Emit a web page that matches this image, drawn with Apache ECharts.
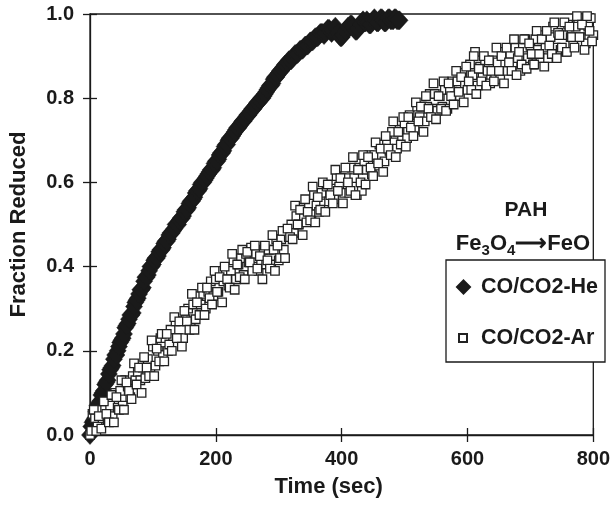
<!DOCTYPE html>
<html>
<head>
<meta charset="utf-8">
<script src="https://cdn.jsdelivr.net/npm/echarts@6/dist/echarts.min.js"></script>
<style>
html,body{margin:0;padding:0;background:#fff;}
#chart{width:613px;height:508px;}
</style>
</head>
<body>
<div id="chart"></div>
<script>
// ---- data ----
var xTicks = [0, 200, 400, 600, 800];
var yTicks = ['0.0', '0.2', '0.4', '0.6', '0.8', '1.0'];
var seriesNames = ['CO/CO2-He', 'CO/CO2-Ar'];

// He run, samples at multiples of 4 s
var heTimeA = [0,4,8,12,16,20,24,28,32,36,40,44,48,52,56,60,64,68,72,76,80,84,88,92,96,100,104,108,112,116,120,124,128,132,136,140,144,148,152,156,160,164,168,172,176,180,184,188,192,196,200,204,208,212,216,220,224,228,232,236,240,244,248,252,256,260,264,268,272,276,280,284,288,292,296,300,304,308,312,316,320,324,328,332,336,340,344,348,352,356,360,364,368,372,376,380,384,388,392,396,400,404,408,412,416,420,424,428,432,436,440,444,448,452,456,460,464,468,472,476,480,484,488,492];
var heFracA = [0.00,0.03,0.04,0.07,0.08,0.10,0.12,0.13,0.155,0.165,0.19,0.20,0.22,0.23,0.255,0.265,0.285,0.29,0.315,0.325,0.345,0.35,0.375,0.38,0.40,0.405,0.42,0.425,0.44,0.445,0.46,0.465,0.48,0.485,0.50,0.50,0.515,0.52,0.535,0.54,0.555,0.56,0.575,0.58,0.595,0.60,0.61,0.62,0.63,0.635,0.65,0.655,0.67,0.675,0.69,0.70,0.705,0.715,0.725,0.73,0.74,0.745,0.755,0.76,0.77,0.775,0.785,0.79,0.80,0.805,0.815,0.825,0.83,0.845,0.85,0.86,0.865,0.875,0.88,0.89,0.89,0.90,0.905,0.91,0.915,0.92,0.925,0.93,0.935,0.94,0.945,0.95,0.955,0.95,0.96,0.965,0.955,0.965,0.96,0.95,0.945,0.955,0.965,0.97,0.975,0.965,0.96,0.97,0.98,0.98,0.985,0.975,0.98,0.99,0.98,0.985,0.99,0.98,0.985,0.99,0.985,0.99,0.985,0.985];
// He run, samples in between (2 s offset)
var heTimeB = [2,6,10,14,18,22,26,30,34,38,42,46,50,54,58,62,66,70,74,78,82,86,90,94,98,102,106,110,114,118,122,126,130,134,138,142,146,150,154,158,162,166,170,174,178,182,186,190,194,198,202,206,210,214,218,222,226,230,234,238,242,246,250,254,258,262,266,270,274,278,282,286,290,294,298,302,306,310,314,318,322,326,330,334,338,342,346,350,354,358,362,366,370,374,378,382,386,390,394,398,402,406,410,414,418,422,426,430,434,438,442,446,450,454,458,462,466,470,474,478,482,486,490];
var heFracB = [0.02,0.035,0.055,0.075,0.095,0.105,0.125,0.145,0.16,0.18,0.19,0.21,0.225,0.24,0.26,0.275,0.285,0.305,0.32,0.335,0.345,0.365,0.375,0.39,0.40,0.415,0.42,0.435,0.44,0.455,0.46,0.475,0.48,0.49,0.50,0.51,0.515,0.53,0.535,0.55,0.555,0.565,0.58,0.585,0.60,0.605,0.615,0.625,0.63,0.645,0.65,0.665,0.67,0.685,0.69,0.705,0.71,0.72,0.73,0.735,0.745,0.75,0.76,0.765,0.775,0.78,0.79,0.795,0.80,0.81,0.82,0.83,0.835,0.85,0.855,0.865,0.87,0.88,0.885,0.89,0.895,0.905,0.905,0.915,0.915,0.925,0.925,0.935,0.935,0.945,0.945,0.955,0.955,0.955,0.965,0.96,0.96,0.97,0.955,0.945,0.95,0.96,0.97,0.975,0.97,0.96,0.965,0.975,0.985,0.98,0.98,0.975,0.985,0.985,0.98,0.99,0.985,0.98,0.99,0.985,0.985,0.99,0.985];

// Ar run, samples at multiples of 4 s
var arTimeA = [0,4,8,12,16,20,24,28,32,36,40,44,48,52,56,60,64,68,72,76,80,84,88,92,96,100,104,108,112,116,120,124,128,132,136,140,144,148,152,156,160,164,168,172,176,180,184,188,192,196,200,204,208,212,216,220,224,228,232,236,240,244,248,252,256,260,264,268,272,276,280,284,288,292,296,300,304,308,312,316,320,324,328,332,336,340,344,348,352,356,360,364,368,372,376,380,384,388,392,396,400,404,408,412,416,420,424,428,432,436,440,444,448,452,456,460,464,468,472,476,480,484,488,492,496,500,504,508,512,516,520,524,528,532,536,540,544,548,552,556,560,564,568,572,576,580,584,588,592,596,600,604,608,612,616,620,624,628,632,636,640,644,648,652,656,660,664,668,672,676,680,684,688,692,696,700,704,708,712,716,720,724,728,732,736,740,744,748,752,756,760,764,768,772,776,780,784,788,792,796,800];
var arFracA = [0.00,0.05,0.04,0.02,0.06,0.04,0.06,0.035,0.07,0.045,0.10,0.065,0.105,0.07,0.13,0.115,0.09,0.14,0.13,0.15,0.13,0.16,0.135,0.18,0.16,0.21,0.165,0.20,0.23,0.19,0.23,0.20,0.25,0.23,0.27,0.23,0.27,0.23,0.275,0.30,0.27,0.31,0.275,0.33,0.31,0.335,0.30,0.34,0.365,0.33,0.37,0.34,0.39,0.365,0.39,0.355,0.39,0.415,0.37,0.405,0.42,0.38,0.43,0.41,0.445,0.40,0.43,0.39,0.415,0.44,0.405,0.44,0.405,0.44,0.465,0.415,0.465,0.44,0.485,0.47,0.50,0.48,0.52,0.50,0.54,0.52,0.505,0.55,0.525,0.57,0.545,0.53,0.575,0.55,0.59,0.555,0.585,0.56,0.615,0.59,0.61,0.575,0.61,0.575,0.635,0.61,0.57,0.635,0.58,0.645,0.63,0.665,0.62,0.665,0.64,0.69,0.665,0.65,0.70,0.675,0.72,0.695,0.68,0.725,0.70,0.74,0.705,0.76,0.735,0.725,0.78,0.755,0.78,0.745,0.78,0.81,0.775,0.81,0.77,0.805,0.78,0.82,0.775,0.82,0.84,0.805,0.84,0.805,0.86,0.835,0.82,0.88,0.855,0.91,0.83,0.875,0.85,0.89,0.865,0.835,0.89,0.85,0.885,0.845,0.91,0.88,0.865,0.905,0.88,0.92,0.895,0.865,0.92,0.94,0.895,0.925,0.88,0.94,0.915,0.895,0.95,0.92,0.895,0.945,0.97,0.92,0.955,0.915,0.95,0.91,0.975,0.945,0.93,0.97,0.99,0.945,0.975,0.93,0.97,0.99,0.95];

// Ar run, samples in between (2 s offset)
var arTimeB = [2,6,10,14,18,22,26,30,34,38,42,46,50,54,58,62,66,70,74,78,82,86,90,94,98,102,106,110,114,118,122,126,130,134,138,142,146,150,154,158,162,166,170,174,178,182,186,190,194,198,202,206,210,214,218,222,226,230,234,238,242,246,250,254,258,262,266,270,274,278,282,286,290,294,298,302,306,310,314,318,322,326,330,334,338,342,346,350,354,358,362,366,370,374,378,382,386,390,394,398,402,406,410,414,418,422,426,430,434,438,442,446,450,454,458,462,466,470,474,478,482,486,490,494,498,502,506,510,514,518,522,526,530,534,538,542,546,550,554,558,562,566,570,574,578,582,586,590,594,598,602,606,610,614,618,622,626,630,634,638,642,646,650,654,658,662,666,670,674,678,682,686,690,694,698,702,706,710,714,718,722,726,730,734,738,742,746,750,754,758,762,766,770,774,778,782,786,790,794,798];
var arFracB = [0.01,0.06,0.01,0.045,0.015,0.08,0.05,0.03,0.095,0.03,0.09,0.06,0.13,0.06,0.125,0.105,0.085,0.17,0.12,0.16,0.10,0.185,0.16,0.14,0.225,0.14,0.205,0.175,0.24,0.175,0.24,0.215,0.20,0.28,0.23,0.27,0.21,0.295,0.27,0.25,0.335,0.25,0.315,0.285,0.35,0.285,0.35,0.325,0.31,0.39,0.34,0.375,0.315,0.40,0.37,0.35,0.43,0.345,0.405,0.375,0.44,0.37,0.435,0.41,0.39,0.45,0.395,0.425,0.37,0.45,0.415,0.395,0.475,0.39,0.45,0.42,0.485,0.42,0.49,0.47,0.465,0.545,0.50,0.535,0.475,0.56,0.53,0.51,0.59,0.505,0.565,0.535,0.60,0.53,0.595,0.57,0.55,0.63,0.58,0.61,0.55,0.635,0.60,0.58,0.66,0.57,0.63,0.60,0.665,0.595,0.66,0.635,0.615,0.695,0.645,0.68,0.625,0.71,0.68,0.665,0.745,0.66,0.72,0.69,0.755,0.685,0.755,0.73,0.71,0.79,0.745,0.78,0.72,0.805,0.775,0.755,0.835,0.75,0.805,0.775,0.84,0.77,0.835,0.805,0.785,0.865,0.815,0.85,0.79,0.875,0.84,0.82,0.90,0.81,0.87,0.84,0.90,0.83,0.89,0.865,0.84,0.92,0.865,0.90,0.835,0.92,0.885,0.865,0.94,0.855,0.91,0.88,0.94,0.87,0.93,0.905,0.88,0.96,0.905,0.94,0.875,0.96,0.925,0.905,0.98,0.895,0.95,0.92,0.98,0.91,0.97,0.945,0.92,0.995,0.945,0.975,0.915,0.995,0.96,0.935];

function zip(a, b) { var out = []; for (var i = 0; i < a.length; i++) out.push([a[i], b[i]]); return out; }

var FONT = '"Liberation Sans", Arial, sans-serif';
var INK = '#1a1a1a';

var chart = echarts.init(document.getElementById('chart'), null, {renderer: 'canvas'});

var xBase = {type: 'value', min: 0, max: 800, interval: 200, splitLine: {show: false}};
var yBase = {type: 'value', min: 0, max: 1, interval: 0.2, splitLine: {show: false}};

chart.setOption({
  animation: false,
  backgroundColor: '#fff',
  grid: {left: 89, top: 14, right: 17, bottom: 73, show: true, borderColor: INK, borderWidth: 1.3, backgroundColor: 'transparent'},
  xAxis: [
    Object.assign({}, xBase, {
      position: 'bottom',
      axisLine: {show: true, lineStyle: {color: INK, width: 1.3}},
      axisTick: {show: true, inside: false, length: 7, lineStyle: {color: INK, width: 1.3}},
      axisLabel: {show: true, margin: 14, color: INK, fontFamily: FONT, fontWeight: 'bold', fontSize: 20,
        formatter: function (v) { return xTicks.indexOf(v) >= 0 ? String(v) : ''; }},
      name: 'Time (sec)', nameLocation: 'middle', nameGap: 41,
      nameTextStyle: {color: INK, fontFamily: FONT, fontWeight: 'bold', fontSize: 22, padding: [0, 26, 0, 0]}
    }),
    Object.assign({}, xBase, {
      position: 'bottom',
      axisLine: {show: false},
      axisTick: {show: true, inside: true, length: 7, lineStyle: {color: INK, width: 1.3}},
      axisLabel: {show: false}
    })
  ],
  yAxis: [
    Object.assign({}, yBase, {
      position: 'left',
      axisLine: {show: true, lineStyle: {color: INK, width: 1.3}},
      axisTick: {show: true, inside: false, length: 7, lineStyle: {color: INK, width: 1.3}},
      axisLabel: {show: true, margin: 16, color: INK, fontFamily: FONT, fontWeight: 'bold', fontSize: 20,
        formatter: function (v) { return yTicks[Math.round(v * 5)]; }},
      name: 'Fraction Reduced', nameLocation: 'middle', nameGap: 60, nameRotate: 90,
      nameTextStyle: {color: INK, fontFamily: FONT, fontWeight: 'bold', fontSize: 22}
    }),
    Object.assign({}, yBase, {
      position: 'left',
      axisLine: {show: false},
      axisTick: {show: true, inside: true, length: 7, lineStyle: {color: INK, width: 1.3}},
      axisLabel: {show: false}
    })
  ],
  title: [
    {text: 'PAH', left: 521, top: 195, textAlign: 'center',
      textStyle: {color: INK, fontFamily: FONT, fontWeight: 'bold', fontSize: 21}},
    {text: '{a|Fe}{b|3}{a|O}{b|4}{a|\u27F6FeO}', left: 518, top: 225, textAlign: 'center',
      textStyle: {rich: {
        a: {color: INK, fontFamily: FONT, fontWeight: 'bold', fontSize: 22, lineHeight: 28},
        b: {color: INK, fontFamily: FONT, fontWeight: 'bold', fontSize: 15, lineHeight: 15, verticalAlign: 'bottom'}
      }}}
  ],
  graphic: [
    {type: 'rect', z: 10, shape: {x: 446, y: 260, width: 159, height: 102},
      style: {fill: '#fff', stroke: INK, lineWidth: 1.3}}
  ],
  legend: [
    {data: [seriesNames[0]], left: 456, top: 276, orient: 'vertical', padding: 0, z: 20,
      itemWidth: 13, itemHeight: 13, icon: 'diamond',
      textStyle: {color: INK, fontFamily: FONT, fontWeight: 'bold', fontSize: 21.5, padding: [0, 0, 0, 6]}},
    {data: [seriesNames[1]], left: 458, top: 327, orient: 'vertical', padding: 0, z: 20,
      itemWidth: 8, itemHeight: 8, icon: 'rect',
      textStyle: {color: INK, fontFamily: FONT, fontWeight: 'bold', fontSize: 21.5, padding: [0, 0, 0, 9]}}
  ],
  series: [
    {name: seriesNames[0], type: 'scatter', xAxisIndex: 0, yAxisIndex: 0,
      symbol: 'diamond', symbolSize: [17, 19], clip: false,
      itemStyle: {color: INK, borderColor: INK, borderWidth: 0.5, opacity: 1},
      data: zip(heTimeA, heFracA).concat(zip(heTimeB, heFracB))},
    {name: seriesNames[1], type: 'scatter', xAxisIndex: 0, yAxisIndex: 0,
      symbol: 'rect', symbolSize: 8.5, clip: false,
      itemStyle: {color: '#fff', borderColor: '#222', borderWidth: 1.3, opacity: 1},
      data: zip(arTimeA, arFracA).concat(zip(arTimeB, arFracB))}
  ]
});
</script>
</body>
</html>
